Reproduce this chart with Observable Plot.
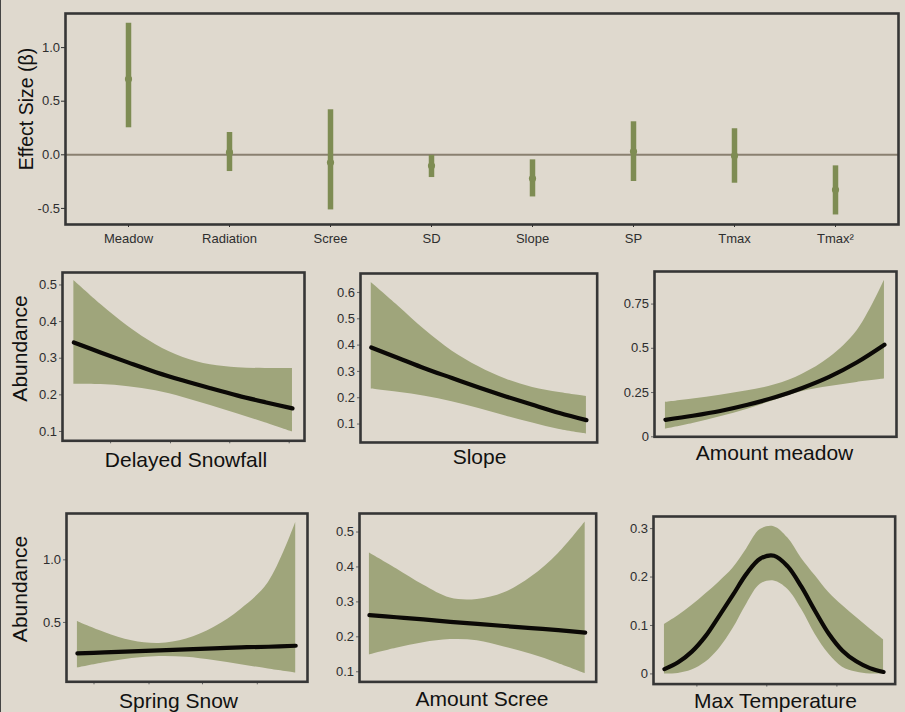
<!DOCTYPE html>
<html>
<head>
<meta charset="utf-8">
<script src="https://cdn.jsdelivr.net/npm/d3@7"></script>
<script src="https://cdn.jsdelivr.net/npm/@observablehq/plot@0.6"></script>
<style>
  body { margin: 0; background: #dfd9ce; }
  #wrap { position: relative; width: 905px; height: 712px; background: #dfd9ce; overflow: hidden;
          font-family: "Liberation Sans", Arial, sans-serif; }
  #wrap svg { position: absolute; }
  #edge { position: absolute; left: 0; top: 0; width: 1px; height: 712px; background: #444; }
</style>
</head>
<body>
<div id="wrap"><div id="edge"></div></div>
<script>
// ---------- Effect sizes (top panel) ----------
const effectCategories = ["Meadow", "Radiation", "Scree", "SD", "Slope", "SP", "Tmax", "Tmax²"];
const effectEstimate = [0.707, 0.022, -0.072, -0.103, -0.221, 0.031, -0.009, -0.327];
const effectLower    = [0.252, -0.156, -0.514, -0.212, -0.393, -0.249, -0.265, -0.561];
const effectUpper    = [1.227, 0.208, 0.420, -0.005, -0.047, 0.308, 0.243, -0.103];
const effectYTicks   = [-0.5, 0, 0.5, 1.0];

// ---------- Response curves (x = relative position along covariate) ----------
const gridX = [0, 0.125, 0.25, 0.375, 0.5, 0.625, 0.75, 0.875, 1];
const tempX = [0, 0.0625, 0.125, 0.1875, 0.25, 0.3125, 0.375, 0.4375, 0.5, 0.5625, 0.625, 0.6875, 0.75, 0.8125, 0.875, 0.9375, 1];

const snowUpper = [0.512, 0.446, 0.386, 0.337, 0.302, 0.282, 0.274, 0.272, 0.272];
const snowMean  = [0.343, 0.315, 0.288, 0.262, 0.239, 0.218, 0.198, 0.180, 0.163];
const snowLower = [0.229, 0.228, 0.222, 0.211, 0.193, 0.171, 0.148, 0.124, 0.099];
const snowYTicks = [0.1, 0.2, 0.3, 0.4, 0.5];
const snowXTicks = [0.168, 0.442, 0.713, 0.985];

const slopeUpper = [0.638, 0.549, 0.457, 0.378, 0.318, 0.271, 0.239, 0.220, 0.205];
const slopeMean  = [0.391, 0.351, 0.311, 0.275, 0.239, 0.205, 0.173, 0.142, 0.115];
const slopeLower = [0.233, 0.221, 0.206, 0.185, 0.159, 0.131, 0.104, 0.079, 0.062];
const slopeYTicks = [0.1, 0.2, 0.3, 0.4, 0.5, 0.6];

const meadowUpper = [0.194, 0.213, 0.235, 0.260, 0.294, 0.354, 0.448, 0.599, 0.885];
const meadowMean  = [0.096, 0.119, 0.146, 0.181, 0.223, 0.276, 0.340, 0.421, 0.520];
const meadowLower = [0.043, 0.075, 0.113, 0.156, 0.207, 0.256, 0.284, 0.307, 0.326];
const meadowYTicks = [0, 0.25, 0.5, 0.75];

const springUpper = [0.508, 0.420, 0.354, 0.332, 0.367, 0.460, 0.606, 0.819, 1.298];
const springMean  = [0.253, 0.261, 0.269, 0.277, 0.285, 0.293, 0.301, 0.306, 0.314];
const springLower = [0.136, 0.178, 0.212, 0.228, 0.222, 0.196, 0.162, 0.128, 0.096];
const springYTicks = [0.5, 1.0];
const springXTicks = [0.076, 0.328, 0.573, 0.824];

const screeUpper = [0.440, 0.395, 0.348, 0.311, 0.307, 0.326, 0.371, 0.438, 0.529];
const screeMean  = [0.262, 0.256, 0.250, 0.243, 0.237, 0.231, 0.225, 0.219, 0.212];
const screeLower = [0.148, 0.167, 0.183, 0.192, 0.189, 0.171, 0.150, 0.124, 0.095];
const screeYTicks = [0.1, 0.2, 0.3, 0.4, 0.5];

const tempUpper = [0.102, 0.120, 0.141, 0.165, 0.190, 0.218, 0.258, 0.298, 0.304, 0.281, 0.239, 0.203, 0.168, 0.141, 0.117, 0.093, 0.070];
const tempMean  = [0.010, 0.024, 0.046, 0.078, 0.120, 0.163, 0.207, 0.238, 0.244, 0.222, 0.180, 0.130, 0.083, 0.048, 0.026, 0.012, 0.004];
const tempLower = [0.000, 0.001, 0.008, 0.024, 0.052, 0.093, 0.144, 0.185, 0.192, 0.175, 0.134, 0.082, 0.041, 0.014, 0.004, 0.000, 0.000];
const tempYTicks = [0, 0.1, 0.2, 0.3];
const tempXTicks = [0.148, 0.467, 0.787];

// ---------- styling ----------
const FONT = '"Liberation Sans", Arial, sans-serif';
const FRAME = "#363636";
const BAND = "#9fa57b";
const BAR = "#7e8c53";
const wrap = document.getElementById("wrap");

function place(svg, left, top) {
  svg.style.left = left + "px";
  svg.style.top = top + "px";
  svg.style.maxWidth = "none";
  wrap.appendChild(svg);
}

// ---------- top panel ----------
const effect = effectCategories.map((c, i) => ({cat: c, est: effectEstimate[i], lo: effectLower[i], hi: effectUpper[i]}));
const topPlot = Plot.plot({
  width: 905, height: 250,
  marginLeft: 65, marginRight: 7, marginTop: 13, marginBottom: 26,
  style: {background: "transparent", fontFamily: FONT, fontSize: "13px", color: "#2e2e2e"},
  x: {type: "point", domain: effectCategories, padding: 0.6},
  y: {domain: [-0.65, 1.318]},
  marks: [
    Plot.ruleY([0], {stroke: "#8a8070", strokeWidth: 2}),
    Plot.ruleX(effect, {x: "cat", y1: "lo", y2: "hi", stroke: BAR, strokeWidth: 5.5}),
    Plot.dot(effect, {x: "cat", y: "est", r: 3.6, fill: BAR}),
    Plot.axisY({ticks: effectYTicks, tickFormat: d => d.toFixed(1), tickSize: 4, tickPadding: 1.5, label: null}),
    Plot.axisX({tickSize: 3, tickPadding: 6, label: null}),
    Plot.frame({stroke: FRAME, strokeWidth: 2.6})
  ]
});
place(topPlot, 0, 0);

// ---------- small panels ----------
function panel(spec) {
  const [fx0, fy0, fx1, fy1] = spec.frame;
  const ml = 52, mr = 4, mt = 4, mb = 10;
  const rows = spec.x.map((t, i) => ({t, m: spec.mean[i], lo: spec.lower[i], hi: spec.upper[i]}));
  const marks = [
    Plot.areaY(rows, {x: "t", y1: "lo", y2: "hi", fill: BAND, curve: "catmull-rom"}),
    Plot.lineY(rows, {x: "t", y: "m", stroke: "#0b0906", strokeWidth: 4.2, curve: "catmull-rom"}),
    Plot.axisY({ticks: spec.yTicks, tickFormat: spec.yFormat, tickSize: 3, tickPadding: 2.5, label: null, stroke: "#666"}),
    Plot.axisX({ticks: spec.xTicks || [], tickFormat: () => "", tickSize: 3, label: null, stroke: "#666"}),
    Plot.frame({stroke: FRAME, strokeWidth: 2.6})
  ];
  const p = Plot.plot({
    width: fx1 - fx0 + ml + mr, height: fy1 - fy0 + mt + mb,
    marginLeft: ml, marginRight: mr, marginTop: mt, marginBottom: mb,
    style: {background: "transparent", fontFamily: FONT, fontSize: "13px", color: "#2e2e2e"},
    x: {domain: spec.xDomain},
    y: {domain: spec.yDomain},
    marks
  });
  place(p, fx0 - ml, fy0 - mt);
}

const f1 = d => d.toFixed(1);
const fMeadow = d => d === 0 ? "0" : String(d);
const fTemp = d => d === 0 ? "0" : d.toFixed(1);

panel({x: gridX, mean: snowMean, lower: snowLower, upper: snowUpper, frame: [62, 271.7, 304, 440],
  xDomain: [-0.052, 1.055], yDomain: [0.0746, 0.534], yTicks: snowYTicks, yFormat: f1, xTicks: snowXTicks});
panel({x: gridX, mean: slopeMean, lower: slopeLower, upper: slopeUpper, frame: [360, 272.7, 596.7, 441.7],
  xDomain: [-0.050, 1.050], yDomain: [0.030, 0.672], yTicks: slopeYTicks, yFormat: f1});
panel({x: gridX, mean: meadowMean, lower: meadowLower, upper: meadowUpper, frame: [654, 270.7, 896, 436],
  xDomain: [-0.050, 1.055], yDomain: [0, 0.934], yTicks: meadowYTicks, yFormat: fMeadow});
panel({x: gridX, mean: springMean, lower: springLower, upper: springUpper, frame: [65.7, 512.7, 306.7, 681],
  xDomain: [-0.050, 1.054], yDomain: [0.026, 1.37], yTicks: springYTicks, yFormat: f1, xTicks: springXTicks});
panel({x: gridX, mean: screeMean, lower: screeLower, upper: screeUpper, frame: [359.3, 513.3, 596, 681.7],
  xDomain: [-0.046, 1.051], yDomain: [0.071, 0.553], yTicks: screeYTicks, yFormat: f1});
panel({x: tempX, mean: tempMean, lower: tempLower, upper: tempUpper, frame: [653.3, 515.7, 895, 683.3],
  xDomain: [-0.050, 1.053], yDomain: [-0.021, 0.325], yTicks: tempYTicks, yFormat: fTemp, xTicks: tempXTicks});

// ---------- titles ----------
const xTitles = [
  {text: "Delayed Snowfall", x: 186, y: 466.5},
  {text: "Slope", x: 479.5, y: 464},
  {text: "Amount meadow", x: 774.5, y: 459.5},
  {text: "Spring Snow", x: 178.5, y: 707.5},
  {text: "Amount Scree", x: 482, y: 705.5},
  {text: "Max Temperature", x: 775.5, y: 707.5}
];
const yTitles = [
  {text: "Effect Size (β)", x: 32.5, y: 109, size: 19.5},
  {text: "Abundance", x: 26.5, y: 348.5, size: 21},
  {text: "Abundance", x: 26.5, y: 589, size: 21}
];
const overlay = d3.create("svg").attr("width", 905).attr("height", 712)
  .style("left", "0px").style("top", "0px").style("pointer-events", "none")
  .attr("font-family", FONT).attr("fill", "#111");
overlay.selectAll("text.xt").data(xTitles).join("text")
  .attr("x", d => d.x).attr("y", d => d.y).attr("text-anchor", "middle")
  .attr("font-size", 21).text(d => d.text);
overlay.selectAll("text.yt").data(yTitles).join("text")
  .attr("transform", d => `translate(${d.x},${d.y}) rotate(-90)`).attr("text-anchor", "middle")
  .attr("font-size", d => d.size).text(d => d.text);
wrap.appendChild(overlay.node());
</script>
</body>
</html>
